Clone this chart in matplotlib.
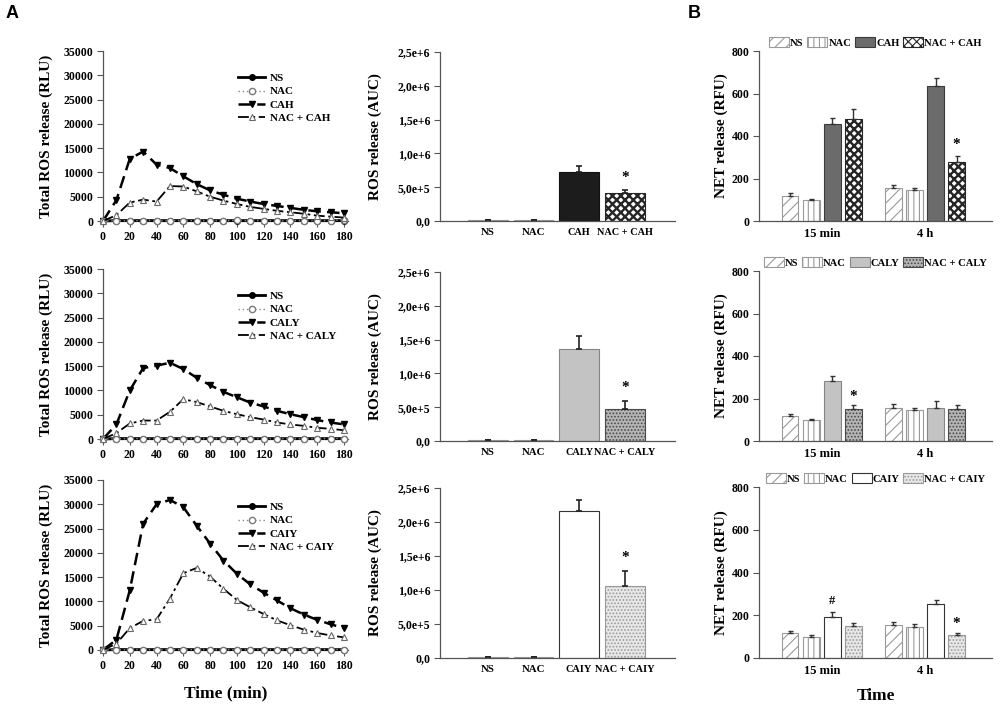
import matplotlib
matplotlib.use("Agg")
import matplotlib.pyplot as plt
from matplotlib.patches import Patch

plt.rcParams['font.family'] = ['Liberation Serif', 'DejaVu Serif']
plt.rcParams['font.weight'] = 'bold'
plt.rcParams['axes.labelweight'] = 'bold'
plt.rcParams['hatch.linewidth'] = 0.8

# ---- data: kinetics (panel A, left) ----
time = [0, 10, 20, 30, 40, 50, 60, 70, 80, 90, 100, 110, 120, 130, 140, 150, 160, 170, 180]

ns_cah = [0, 100, 90, 80, 90, 80, 90, 80, 90, 80, 90, 80, 80, 90, 80, 90, 80, 90, 80]
nac_cah = [0, 60, 50, 60, 50, 60, 50, 60, 50, 60, 120, 60, 50, 60, 50, 60, 70, 80, 300]
cah = [0, 4300, 12800, 14300, 11600, 10900, 9200, 7600, 6300, 5400, 4600, 4000, 3500, 3100, 2700, 2300, 2000, 1800, 1600]
nac_cah_k = [0, 1200, 3800, 4400, 4000, 7200, 7100, 6100, 5000, 4200, 3500, 2900, 2500, 2100, 1800, 1500, 1100, 900, 700]

ns_caly = [0, 100, 90, 80, 90, 80, 90, 80, 90, 80, 90, 80, 80, 90, 80, 90, 80, 90, 80]
nac_caly = [0, 60, 50, 60, 50, 60, 50, 60, 50, 60, 60, 60, 50, 60, 50, 60, 70, 80, 100]
caly = [0, 3000, 10000, 14600, 15100, 15700, 14400, 12600, 11100, 9700, 8600, 7500, 6700, 5800, 5100, 4500, 3900, 3400, 3000]
nac_caly_k = [0, 1200, 3200, 3800, 3800, 5600, 8200, 7600, 6700, 5800, 5100, 4500, 4000, 3400, 3000, 2700, 2300, 2100, 1800]

ns_caiy = [0, 100, 90, 80, 90, 80, 90, 80, 90, 80, 90, 80, 80, 90, 80, 90, 80, 90, 80]
nac_caiy = [0, 60, 50, 60, 50, 60, 50, 60, 50, 60, 60, 60, 50, 60, 50, 60, 70, 80, 100]
caiy = [0, 2100, 12300, 26000, 30000, 30900, 29400, 25600, 21900, 18400, 15700, 13500, 11800, 10200, 8600, 7300, 6200, 5300, 4500]
nac_caiy_k = [0, 1300, 4500, 6000, 6300, 10600, 15800, 16900, 15100, 12600, 10300, 8800, 7400, 6100, 5100, 4200, 3500, 3000, 2600]

# ---- data: AUC (panel A, right) ----
auc_cah = [12000, 9000, 728000, 408000]
auc_cah_err = [3000, 2000, 84000, 45000]
auc_caly = [13000, 9000, 1359000, 469000]
auc_caly_err = [3000, 2000, 190000, 129000]
auc_caiy = [10000, 8000, 2167000, 1054000]
auc_caiy_err = [2000, 2000, 152000, 225000]
auc_ticks = [0, 500000, 1000000, 1500000, 2000000, 2500000]
auc_ticklabels = ["0,0", "5,0e+5", "1,0e+6", "1,5e+6", "2,0e+6", "2,5e+6"]

# ---- data: NET release (panel B), order NS, NAC, stim, NAC+stim ; [15 min, 4 h] ----
timepoints = ["15 min", "4 h"]
net_cah = [[118, 156], [100, 145], [456, 635], [482, 278]]
net_cah_err = [[14, 15], [5, 12], [31, 36], [43, 27]]
net_caly = [[118, 155], [100, 144], [282, 155], [149, 152]]
net_caly_err = [[11, 18], [5, 13], [22, 32], [19, 19]]
net_caiy = [[118, 153], [100, 143], [192, 254], [150, 109]]
net_caiy_err = [[10, 15], [9, 14], [22, 19], [14, 8]]

W, H = 1000, 705
fig = plt.figure(figsize=(10, 7.05), dpi=100)


def add_ax(left, top, right, bottom):
    return fig.add_axes([left / W, 1 - bottom / H, (right - left) / W, (bottom - top) / H])


def style_axes(ax):
    for s in ['top', 'right']:
        ax.spines[s].set_visible(False)
    for s in ['left', 'bottom']:
        ax.spines[s].set_color('#555555')
        ax.spines[s].set_linewidth(0.9)
    ax.tick_params(axis='y', direction='out', length=4, width=0.8, color='#555555', labelsize=8.5, pad=3)


ns_style = dict(facecolor='white', edgecolor='#9a9a9a', hatch='///')
nac_style = dict(facecolor='white', edgecolor='#9a9a9a', hatch='|||')
stim_styles = {
    'CAH': dict(facecolor='#6b6b6b', edgecolor='#3a3a3a'),
    'CALY': dict(facecolor='#c3c3c3', edgecolor='#858585'),
    'CAIY': dict(facecolor='white', edgecolor='#333333'),
}
auc_stim_styles = dict(stim_styles)
auc_stim_styles['CAH'] = dict(facecolor='#1c1c1c', edgecolor='#111111')
combo_styles = {
    'CAH': dict(facecolor='white', edgecolor='#262626', hatch='xxxx'),
    'CALY': dict(facecolor='#b5b5b5', edgecolor='#4a4a4a', hatch='.....'),
    'CAIY': dict(facecolor='#e8e8e8', edgecolor='#9a9a9a', hatch='.....'),
}


def draw_bar(ax, x, h, width, style):
    # heavier hatch lines for the checkered pattern
    lw_hatch = 1.7 if style.get('hatch') == 'xxxx' else 0.8
    with plt.rc_context({'hatch.linewidth': lw_hatch}):
        ax.bar(x, h, width=width, linewidth=0.8, **style)


def legend_patch(style):
    lw_hatch = 1.7 if style.get('hatch') == 'xxxx' else 0.8
    with plt.rc_context({'hatch.linewidth': lw_hatch}):
        return Patch(linewidth=0.8, **style)


def line_panel(top, bottom, stim, ns, nac, st, combo, xlabel=False):
    ax = add_ax(103, top, 348, bottom)
    style_axes(ax)
    ax.plot(time, ns, color='black', lw=2, marker='o', ms=4, mfc='black', mec='black',
            label='NS', clip_on=False, zorder=3)
    ax.plot(time, nac, color='#8a8a8a', lw=1, ls=(0, (1, 2)), marker='o', ms=4.5, mfc='white',
            mec='#7a7a7a', label='NAC', clip_on=False, zorder=4)
    ax.plot(time, st, color='black', lw=1.8, ls=(0, (5, 2.5)), marker='v', ms=4.5, mfc='black',
            mec='black', label=stim, clip_on=False, zorder=3)
    ax.plot(time, combo, color='black', lw=1.3, ls=(0, (6, 2, 1.5, 2)), marker='^', ms=5, mfc='white',
            mec='#6a6a6a', mew=0.8, label='NAC + ' + stim, clip_on=False, zorder=4)
    ax.set_xlim(0, 183)
    ax.set_ylim(0, 35000)
    ax.set_xticks(range(0, 181, 20))
    ax.set_yticks(range(0, 35001, 5000))
    ax.tick_params(axis='x', direction='out', length=4, width=0.8, color='#555555', labelsize=8.5, pad=3)
    ax.set_ylabel('Total ROS release (RLU)', fontsize=11)
    ax.yaxis.set_label_coords(-0.205, 0.5)
    ax.legend(loc='upper left', bbox_to_anchor=(0.53, 0.9), frameon=False, fontsize=8,
              handlelength=2.4, handletextpad=0.4, labelspacing=0.3, borderpad=0)
    if xlabel:
        ax.set_xlabel('Time (min)', fontsize=12.5, labelpad=10)


def auc_panel(top, bottom, stim, vals, errs, star_y):
    ax = add_ax(440, top, 675, bottom)
    style_axes(ax)
    x = [0, 1, 2, 3]
    styles = [ns_style, nac_style, auc_stim_styles[stim], combo_styles[stim]]
    for xi, v, s in zip(x, vals, styles):
        draw_bar(ax, xi, v, 0.87, s)
    ax.errorbar(x, vals, yerr=[[0] * 4, errs], fmt='none', ecolor='#222222', elinewidth=1.2,
                capsize=2.5, capthick=1.2)
    ax.text(3, star_y, '*', ha='center', va='center', fontsize=11)
    ax.set_xlim(-1.05, 4.1)
    ax.set_ylim(0, 2500000)
    ax.set_yticks(auc_ticks)
    ax.set_yticklabels(auc_ticklabels)
    ax.set_xticks(x)
    ax.set_xticklabels(['NS', 'NAC', stim, 'NAC + ' + stim])
    for lbl in ax.get_xticklabels()[2:]:
        lbl.set_fontsize(7.4)
    ax.tick_params(axis='x', length=0, pad=5)
    for lbl in ax.get_xticklabels()[:2]:
        lbl.set_fontsize(7.8)
    ax.set_ylabel('ROS release (AUC)', fontsize=11)
    ax.yaxis.set_label_coords(-0.245, 0.5)


def net_panel(top, bottom, stim, vals, errs, marks, xlabel=False):
    ax = add_ax(759, top, 992, bottom)
    style_axes(ax)
    styles = [ns_style, nac_style, stim_styles[stim], combo_styles[stim]]
    offsets = [-0.306, -0.102, 0.102, 0.306]
    for off, v, e, s in zip(offsets, vals, errs, styles):
        xs = [0 + off, 1 + off]
        draw_bar(ax, xs, v, 0.158, s)
        ax.errorbar(xs, v, yerr=[[0, 0], e], fmt='none', ecolor='#333333', elinewidth=1,
                    capsize=1.8, capthick=1)
    for (xm, ym, sym) in marks:
        ax.text(xm, ym, sym, ha='center', va='center', fontsize=11 if sym == '*' else 9)
    ax.set_xlim(-0.61, 1.65)
    ax.set_ylim(0, 800)
    ax.set_yticks(range(0, 801, 200))
    ax.set_xticks([0, 1])
    ax.set_xticklabels(timepoints)
    ax.tick_params(axis='x', length=0, labelsize=9, pad=5)
    ax.set_ylabel('NET release (RFU)', fontsize=11)
    ax.yaxis.set_label_coords(-0.135, 0.5)
    handles = [legend_patch(s) for s in styles]
    ax.legend(handles, ['NS', 'NAC', stim, 'NAC + ' + stim], ncol=4, loc='center',
              bbox_to_anchor=(0.5, 1.05), frameon=False, fontsize=7.6, handlelength=1.9,
              handleheight=1.1, handletextpad=0.1, columnspacing=0.35, borderpad=0)
    if xlabel:
        ax.set_xlabel('Time', fontsize=12.5, labelpad=8)


line_panel(51, 221, 'CAH', ns_cah, nac_cah, cah, nac_cah_k)
line_panel(269, 439, 'CALY', ns_caly, nac_caly, caly, nac_caly_k)
line_panel(480, 650, 'CAIY', ns_caiy, nac_caiy, caiy, nac_caiy_k, xlabel=True)

auc_panel(52, 221, 'CAH', auc_cah, auc_cah_err, 640000)
auc_panel(272, 441, 'CALY', auc_caly, auc_caly_err, 790000)
auc_panel(488, 658, 'CAIY', auc_caiy, auc_caiy_err, 1480000)

net_panel(51, 221, 'CAH', net_cah, net_cah_err, [(1.306, 360, '*')])
net_panel(271, 441, 'CALY', net_caly, net_caly_err, [(0.306, 210, '*')])
net_panel(487, 658, 'CAIY', net_caiy, net_caiy_err, [(0.102, 265, '#'), (1.306, 160, '*')], xlabel=True)

fig.text(12 / W, 1 - 14 / H, 'A', fontsize=13, family='Liberation Sans', weight='bold', va='center', ha='center')
fig.text(694 / W, 1 - 14 / H, 'B', fontsize=13, family='Liberation Sans', weight='bold', va='center', ha='center')

fig.savefig('out.png', dpi=100)
